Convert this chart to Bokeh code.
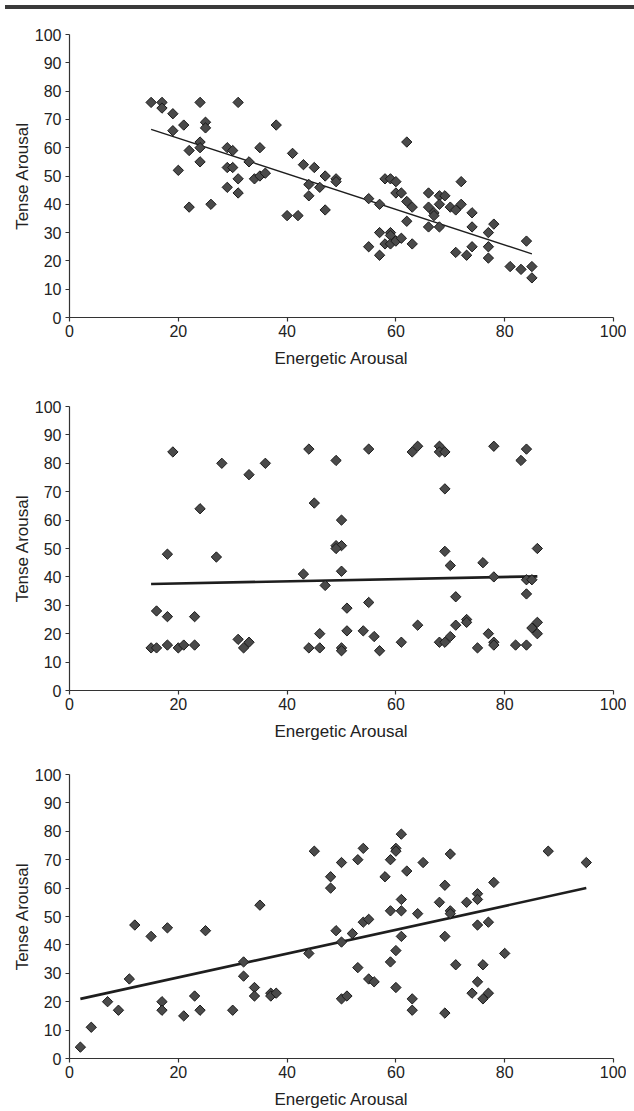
from bokeh.plotting import figure
from bokeh.layouts import column
from bokeh.models import Range1d, FixedTicker, Div
from bokeh.embed import file_html
from bokeh.resources import INLINE
import math

# ---------------- data ----------------
x_ticks = [0, 20, 40, 60, 80, 100]
y_ticks = [0, 10, 20, 30, 40, 50, 60, 70, 80, 90, 100]
x_title = "Energetic Arousal"
y_title = "Tense Arousal"

# Panel 1
ea1 = [15, 17, 17, 19, 19, 21, 20, 22, 22, 24, 24, 24, 24, 25, 25, 26, 29, 29, 29, 30,
       30, 31, 31, 31, 33, 34, 35, 35, 36, 38, 41, 40, 42, 43, 45, 44, 44, 46, 47, 49,
       49, 47, 62, 58, 59, 60, 60, 61, 55, 57, 62, 63, 62, 66, 68, 69, 66, 67, 67, 68,
       70, 71, 72, 72, 74, 78, 55, 57, 57, 58, 59, 59, 59, 60, 61, 63, 66, 68, 74, 71,
       73, 74, 77, 77, 77, 81, 83, 84, 85, 85]
ta1 = [76, 76, 74, 72, 66, 68, 52, 59, 39, 76, 62, 60, 55, 69, 67, 40, 60, 53, 46, 59,
       53, 76, 49, 44, 55, 49, 60, 50, 51, 68, 58, 36, 36, 54, 53, 47, 43, 46, 50, 49,
       48, 38, 62, 49, 49, 48, 44, 44, 42, 40, 41, 39, 34, 44, 43, 43, 39, 37, 36, 40,
       39, 38, 40, 48, 37, 33, 25, 30, 22, 26, 30, 29, 26, 27, 28, 26, 32, 32, 32, 23,
       22, 25, 30, 25, 21, 18, 17, 27, 18, 14]
fit1_x = [15, 85]
fit1_y = [66.5, 22.5]

# Panel 2
ea2 = [15, 16, 16, 18, 18, 18, 19, 20, 21, 23, 23, 24, 27, 28, 31, 32, 33, 33, 36, 43,
       44, 44, 45, 46, 46, 47, 49, 49, 50, 49, 50, 50, 50, 50, 51, 51, 54, 55, 55, 56,
       57, 61, 63, 64, 64, 68, 68, 69, 68, 69, 69, 69, 70, 70, 71, 71, 73, 73, 75, 76,
       77, 78, 78, 78, 78, 82, 83, 84, 84, 85, 84, 84, 85, 86, 86, 86]
ta2 = [15, 15, 28, 16, 26, 48, 84, 15, 16, 16, 26, 64, 47, 80, 18, 15, 17, 76, 80, 41,
       85, 15, 66, 20, 15, 37, 81, 51, 51, 50, 60, 42, 15, 14, 29, 21, 21, 85, 31, 19,
       14, 17, 84, 86, 23, 86, 84, 84, 17, 17, 71, 49, 44, 19, 33, 23, 25, 24, 15, 45,
       20, 86, 40, 17, 16, 16, 81, 85, 39, 39, 34, 16, 22, 24, 20, 50]
fit2_x = [15, 86]
fit2_y = [37.5, 40.2]

# Panel 3
ea3 = [2, 4, 7, 9, 11, 12, 15, 17, 17, 18, 21, 23, 24, 25, 30, 32, 32, 34, 34, 35,
       37, 37, 38, 44, 45, 48, 48, 49, 50, 50, 50, 51, 52, 53, 53, 54, 54, 55, 55, 56,
       58, 59, 59, 59, 60, 60, 60, 60, 61, 61, 61, 61, 62, 63, 63, 64, 65, 68, 69, 69,
       69, 70, 70, 70, 71, 73, 74, 75, 75, 75, 75, 76, 76, 77, 77, 78, 80, 88, 95]
ta3 = [4, 11, 20, 17, 28, 47, 43, 20, 17, 46, 15, 22, 17, 45, 17, 34, 29, 25, 22, 54,
       23, 22, 23, 37, 73, 64, 60, 45, 69, 41, 21, 22, 44, 70, 32, 74, 48, 49, 28, 27,
       64, 70, 52, 34, 74, 73, 38, 25, 79, 56, 52, 43, 66, 21, 17, 51, 69, 55, 61, 43,
       16, 72, 52, 51, 33, 55, 23, 58, 56, 47, 27, 33, 21, 48, 23, 62, 37, 73, 69]
fit3_x = [2, 95]
fit3_y = [21, 60]

FONT = "Liberation Sans"
TXT = "#222222"


def make_panel(ea, ta, fx, fy, fit_width, height, top, bottom):
    p = figure(width=626, height=height,
               x_range=Range1d(0, 100), y_range=Range1d(0, 100),
               output_backend="svg", toolbar_location=None,
               min_border_left=69, min_border_right=13,
               min_border_top=top, min_border_bottom=bottom)
    p.outline_line_color = None
    p.grid.visible = False
    p.background_fill_color = "white"
    p.border_fill_color = "white"

    for ax in (p.xaxis[0], p.yaxis[0]):
        ax.axis_line_color = "#333333"
        ax.axis_line_width = 1.2
        ax.major_tick_line_color = "#333333"
        ax.major_tick_line_width = 1.2
        ax.major_tick_in = 0
        ax.major_tick_out = 4
        ax.minor_tick_line_color = None
        ax.major_label_text_font = FONT
        ax.major_label_text_font_size = "16px"
        ax.major_label_text_color = TXT
        ax.axis_label_text_font = FONT
        ax.axis_label_text_font_size = "17px"
        ax.axis_label_text_font_style = "normal"
        ax.axis_label_text_color = TXT

    p.xaxis[0].ticker = FixedTicker(ticks=x_ticks)
    p.yaxis[0].ticker = FixedTicker(ticks=y_ticks)
    p.xaxis[0].axis_label = x_title
    p.yaxis[0].axis_label = y_title
    p.xaxis[0].major_label_standoff = 3
    p.xaxis[0].axis_label_standoff = 9
    p.yaxis[0].major_label_standoff = 4
    p.yaxis[0].axis_label_standoff = 0

    p.line(fx, fy, line_color="#1e1e1e", line_width=fit_width)
    p.scatter(ea, ta, marker="square", angle=math.pi / 4, size=7.3,
              fill_color="#4a4a4a", line_color="#1a1a1a", line_width=1)
    return p


p1 = make_panel(ea1, ta1, fit1_x, fit1_y, 1.4, 380, 34, 63)
p2 = make_panel(ea2, ta2, fit2_x, fit2_y, 2.6, 368, 26, 58)
p3 = make_panel(ea3, ta3, fit3_x, fit3_y, 2.6, 368, 26, 58)

# dark printed rule across the very top of the page
top_rule = Div(text="", width=634, height=4,
               styles={"position": "fixed", "top": "0px", "left": "0px",
                       "width": "634px", "height": "4px",
                       "background-color": "#3a3a3a", "z-index": "10"})

layout = column(p1, p2, p3, top_rule, spacing=0)

open("out.html", "w").write(file_html(layout, INLINE))
